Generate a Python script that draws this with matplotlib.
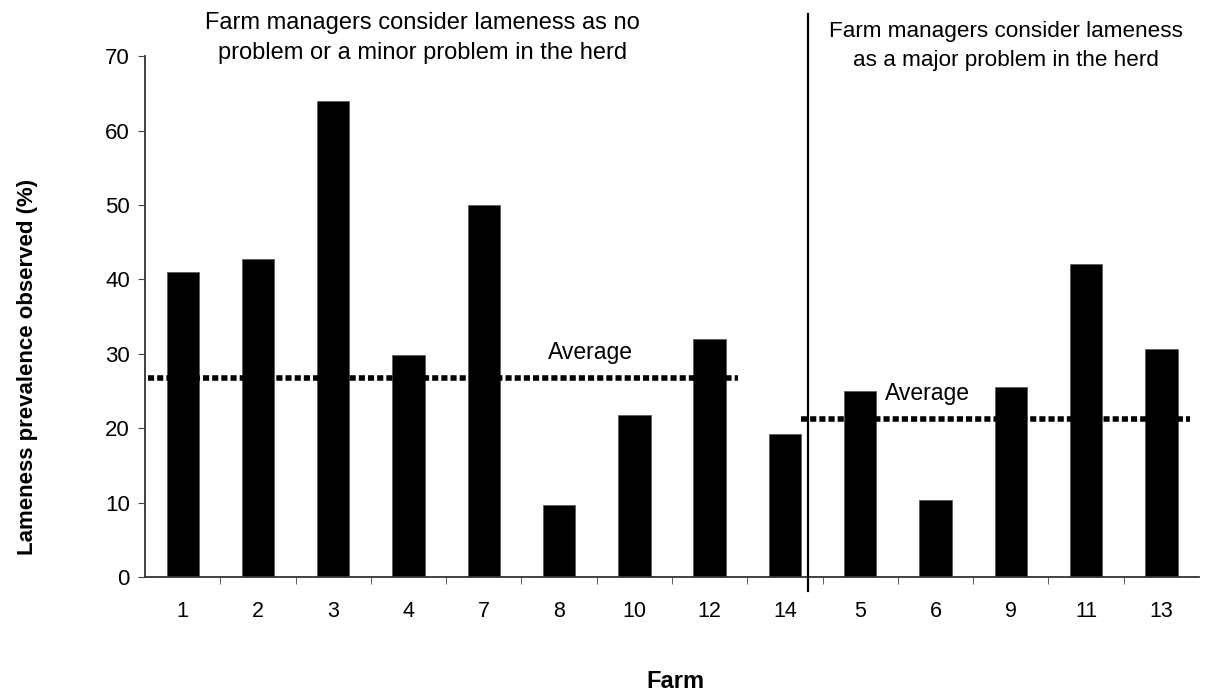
import numpy as np
import matplotlib.pyplot as plt

plt.rcParams['font.family'] = ['Liberation Sans', 'DejaVu Sans']

# data
farms = ['1', '2', '3', '4', '7', '8', '10', '12', '14', '5', '6', '9', '11', '13']
prevalence = [41, 42.8, 64, 29.8, 50, 9.7, 21.8, 32, 19.2, 25, 10.3, 25.6, 42, 30.6]
n_minor = 9          # first 9 farms: "no / minor problem" group
avg_minor = 26.8
avg_major = 21.2

fig = plt.figure(figsize=(12.09, 6.93), dpi=100)
ax = fig.add_axes([0.12, 0.1674, 0.8717, 0.7516])

x = np.arange(len(farms))
ax.bar(x, prevalence, width=0.43, color='black', edgecolor='#555555', linewidth=0.5, zorder=2)

# average lines
ax.plot([-0.46, 7.38], [avg_minor, avg_minor], color='black', lw=4,
        linestyle=(0, (1.1, 0.55)), zorder=3)
ax.plot([8.22, 13.38], [avg_major, avg_major], color='black', lw=4,
        linestyle=(0, (1.1, 0.55)), zorder=3)
ax.text(5.41, 30.2, 'Average', fontsize=16.5, ha='center', va='center')
ax.text(9.89, 24.7, 'Average', fontsize=16.5, ha='center', va='center')

# group divider
ax.plot([8.30, 8.30], [-1.9, 75.7], color='black', lw=1.6, clip_on=False, zorder=4)

ax.text(3.18, 72.4, 'Farm managers consider lameness as no\nproblem or a minor problem in the herd',
        fontsize=17, ha='center', va='center', linespacing=1.45)
ax.text(10.93, 71.3, 'Farm managers consider lameness\nas a major problem in the herd',
        fontsize=16.2, ha='center', va='center', linespacing=1.5)

ax.set_xlim(-0.5, len(farms) - 0.5)
ax.set_ylim(0, 70)
ax.set_yticks(range(0, 71, 10))
ax.set_xticks(x)
ax.set_xticklabels(farms)
ax.set_xticks(np.arange(0.5, len(farms) - 0.5, 1), minor=True)
ax.tick_params(axis='x', which='major', length=0, pad=17, labelsize=15.5)
ax.tick_params(axis='x', which='minor', length=5, color='#444444')
ax.tick_params(axis='y', length=5, labelsize=16, color='#444444', pad=6)

for s in ['top', 'right']:
    ax.spines[s].set_visible(False)
ax.spines['left'].set_color('#333333')
ax.spines['bottom'].set_color('#333333')
ax.spines['left'].set_linewidth(1.3)
ax.spines['bottom'].set_linewidth(1.3)

ax.set_ylabel('Lameness prevalence observed (%)', fontsize=16, fontweight='bold')
ax.yaxis.set_label_coords(-0.102, 0.403)
ax.set_xlabel('Farm', fontsize=17, fontweight='bold')
ax.xaxis.set_label_coords(0.503, -0.178)

fig.savefig('out.png', dpi=100)
